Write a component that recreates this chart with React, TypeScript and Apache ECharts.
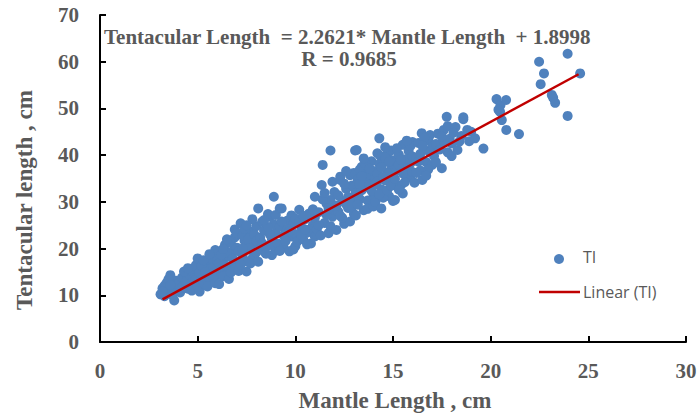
import React, { useEffect, useRef } from "react";
import * as echarts from "echarts";

const xTicks = [0, 5, 10, 15, 20, 25, 30];
const yTicks = [0, 10, 20, 30, 40, 50, 60, 70];
const slope = 2.2621;
const intercept = 1.8998;
const fitRange = [3.2, 24.5];
const equationText = "Tentacular Length  = 2.2621* Mantle Length  + 1.8998";
const rText = "R = 0.9685";
const xTitle = "Mantle Length , cm";
const yTitle = "Tentacular length , cm";
const seriesName = "TI";
const fitName = "Linear (TI)";

const points: number[][] = [
  [3.1,10.2],[3.2,11.5],[3.3,9.8],[3.4,12.6],[3.5,10.9],[3.6,14.3],[3.7,11.8],[3.8,8.9],[3.9,13.1],[3.3,12.0],[3.5,13.4],[3.7,10.1],[3.9,11.2],[4.0,12.5],[3.2,10.8],[3.6,12.2],
  [4.1,10.6],[4.2,13.8],[4.3,12.1],[4.4,14.7],[4.5,11.4],[4.6,13.0],[4.7,15.2],[4.8,12.3],[4.9,16.4],[5.0,14.1],[4.2,11.7],[4.4,12.9],[4.6,14.4],[4.8,13.6],[5.0,17.9],[4.3,15.1],[4.7,11.0],[4.9,13.3],[4.5,15.8],[5.0,12.0],
  [5.1,10.8],[5.2,13.4],[5.3,15.6],[5.4,12.2],[5.5,14.8],[5.6,16.9],[5.7,13.1],[5.8,18.4],[5.9,19.7],[6.0,15.3],[5.1,14.9],[5.3,12.7],[5.5,17.2],[5.7,15.9],[5.9,14.2],[5.2,16.3],[5.4,15.0],[5.6,13.6],[5.8,16.1],[6.0,17.4],[5.5,11.9],[5.8,13.8],[5.3,17.5],[5.9,12.6],[5.6,18.8],
  [6.1,12.4],[6.2,15.8],[6.3,17.6],[6.4,20.8],[6.5,14.6],[6.6,18.3],[6.7,16.2],[6.8,19.5],[6.9,22.4],[7.0,17.1],[6.1,16.9],[6.3,14.1],[6.5,19.2],[6.7,21.3],[6.9,15.7],[6.2,18.7],[6.4,16.4],[6.6,13.5],[6.8,17.8],[7.0,20.2],[6.5,22.0],[6.9,24.1],[6.3,19.9],[6.7,14.9],[7.0,23.3],
  [7.1,15.2],[7.2,25.4],[7.3,18.6],[7.4,21.7],[7.5,15.1],[7.6,19.8],[7.7,23.6],[7.8,17.9],[7.9,20.9],[8.0,24.8],[7.1,19.4],[7.3,22.8],[7.5,17.3],[7.7,20.4],[7.9,18.4],[7.2,16.6],[7.4,24.2],[7.6,22.1],[7.8,26.3],[8.0,19.2],[7.5,25.0],[7.7,16.8],[7.9,23.0],[7.3,20.0],[8.0,21.6],
  [8.1,28.6],[8.1,17.2],[8.2,22.3],[8.3,25.7],[8.4,19.4],[8.5,24.3],[8.6,20.6],[8.7,26.8],[8.8,18.6],[8.9,31.1],[9.0,23.4],[8.2,20.0],[8.4,23.8],[8.6,27.4],[8.8,22.1],[9.0,19.6],[8.3,21.2],[8.5,18.9],[8.7,23.0],[8.9,25.2],[9.0,27.2],[8.6,24.6],[8.4,26.1],[9.2,28.6],[8.8,20.8],
  [9.1,21.1],[9.2,24.7],[9.3,28.6],[9.4,20.2],[9.5,23.3],[9.6,26.0],[9.7,19.4],[9.8,22.6],[9.9,25.3],[10.0,20.5],[9.2,19.5],[9.4,22.8],[9.6,24.2],[9.8,27.1],[10.0,23.1],[9.5,21.6],[9.9,19.8],[10.0,26.4],[9.3,25.8],[9.7,23.7],
  [10.1,21.5],[10.2,28.3],[10.3,24.6],[10.4,22.0],[10.5,26.3],[10.6,23.4],[10.7,27.5],[10.8,21.1],[10.9,25.0],[11.0,31.1],[10.2,25.7],[10.4,27.0],[10.6,20.9],[10.8,24.2],[11.0,26.6],[10.3,22.9],[10.7,23.8],[10.9,28.4],[10.5,24.1],[11.0,22.6],
  [11.1,24.1],[11.2,27.8],[11.35,33.6],[11.4,37.9],[11.5,25.5],[11.6,29.6],[11.7,23.3],[11.8,30.4],[11.8,41.0],[11.9,26.8],[12.0,32.1],[11.2,25.0],[11.4,30.5],[11.6,27.2],[11.8,24.8],[12.0,28.3],[11.3,22.8],[11.5,31.9],[11.7,28.6],[11.9,34.3],
  [12.1,24.0],[12.2,27.9],[12.3,35.4],[12.3,34.7],[12.4,30.2],[12.5,25.3],[12.6,32.8],[12.7,28.7],[12.8,25.8],[12.9,33.5],[13.0,30.1],[12.2,31.4],[12.4,26.6],[12.6,29.5],[12.8,35.7],[13.0,27.4],[12.5,33.9],[12.7,31.1],[12.9,28.9],[13.0,36.2],[12.1,29.2],[12.3,27.0],[12.6,36.6],[12.8,30.8],[13.0,33.0],
  [13.06,41.0],[13.1,27.1],[13.2,34.8],[13.3,30.6],[13.4,37.5],[13.5,28.2],[13.6,33.2],[13.7,36.3],[13.8,29.7],[13.9,38.7],[14.0,31.6],[13.1,31.9],[13.3,36.9],[13.5,34.0],[13.7,30.3],[13.9,35.1],[13.2,29.4],[13.4,32.5],[13.6,38.0],[13.8,33.7],[14.0,36.6],[13.5,39.3],[13.7,28.5],[13.9,32.4],[13.3,33.8],[14.0,29.0],[13.6,35.6],[13.8,37.1],[13.4,35.5],[13.14,41.1],
  [14.1,30.0],[14.2,36.0],[14.3,43.6],[14.35,39.8],[14.4,32.7],[14.5,38.3],[14.6,34.6],[14.7,40.2],[14.8,31.2],[14.9,37.0],[15.0,34.1],[14.1,33.8],[14.3,38.1],[14.5,30.9],[14.7,36.2],[14.9,41.0],[14.2,34.4],[14.4,37.4],[14.6,39.5],[14.8,35.4],[15.0,38.9],[14.3,31.6],[14.5,35.3],[14.7,32.5],[14.9,33.4],[15.0,30.2],[14.6,41.7],[14.2,40.4],[14.8,38.6],[14.4,28.6],
  [15.1,30.4],[15.2,36.8],[15.3,40.1],[15.4,33.5],[15.5,42.2],[15.6,37.6],[15.7,35.0],[15.8,40.9],[15.9,38.3],[16.0,42.8],[15.1,34.9],[15.3,37.9],[15.5,31.8],[15.7,39.2],[15.9,35.6],[15.2,41.5],[15.4,39.0],[15.6,34.2],[15.8,37.1],[16.0,36.4],[15.5,36.1],[15.9,42.0],[15.3,32.6],[16.0,39.7],[15.7,43.1],
  [16.1,34.1],[16.2,39.4],[16.3,42.6],[16.4,36.7],[16.47,44.7],[16.5,34.7],[16.6,41.1],[16.7,38.5],[16.8,43.2],[16.9,44.3],[17.0,37.9],[16.2,36.2],[16.4,40.3],[16.6,43.7],[16.8,36.9],[17.0,41.8],[16.3,38.6],[16.7,35.6],[16.9,40.6],[16.5,42.0],
  [17.1,39.8],[17.2,42.4],[17.3,44.6],[17.5,37.2],[17.6,45.4],[17.75,48.2],[17.8,40.6],[17.9,43.5],[18.0,42.5],[17.2,38.5],[17.4,41.2],[17.6,43.0],[17.8,46.2],[18.0,39.8],[17.5,44.0],
  [18.2,46.0],[18.3,41.1],[18.5,44.1],[18.6,47.7],[18.6,48.1],[18.8,45.4],[18.4,42.9],[19.0,45.0],[19.2,43.6],[19.63,41.4],[18.9,43.0],[18.1,44.8],
  [20.3,52.0],[20.5,50.7],[20.4,49.7],[20.48,49.3],[20.57,47.5],[20.79,51.8],[20.8,45.4],[21.45,44.5],[22.48,60.0],[22.73,57.5],[22.56,55.2],[23.13,52.9],[23.2,52.3],[23.3,51.2],[23.94,48.4],[23.94,61.7],[24.58,57.5]
];

const serif = "'Liberation Serif', 'Times New Roman', serif";
const sans = "'Open Sans', 'Noto Sans', sans-serif";
const gray = "#595959";

export default function App() {
  const ref = useRef<HTMLDivElement>(null);
  useEffect(() => {
    if (!ref.current) return;
    const chart = echarts.init(ref.current, null, { renderer: "svg" });
    const fitLine = fitRange.map((x) => [x, slope * x + intercept]);
    const axisCommon = {
      type: "value" as const,
      axisLine: { show: true, lineStyle: { color: "#000", width: 2 } },
      axisTick: { show: true, inside: true, length: 6, lineStyle: { color: "#000", width: 2 } },
      splitLine: { show: false },
      axisLabel: { fontFamily: serif, fontWeight: "bold" as const, fontSize: 21, color: gray },
    };
    chart.setOption({
      animation: false,
      backgroundColor: "#fff",
      grid: { left: 100, right: 14, top: 15, bottom: 76, containLabel: false },
      xAxis: { ...axisCommon, min: xTicks[0], max: xTicks[xTicks.length - 1], interval: 5, axisLabel: { ...axisCommon.axisLabel, margin: 18 } },
      yAxis: { ...axisCommon, min: yTicks[0], max: yTicks[yTicks.length - 1], interval: 10, axisLabel: { ...axisCommon.axisLabel, margin: 21 } },
      series: [
        {
          name: seriesName,
          type: "scatter",
          data: points,
          symbol: "circle",
          symbolSize: 10,
          itemStyle: { color: "#4f81bd", opacity: 1 },
          z: 2,
        },
        {
          name: fitName,
          type: "line",
          data: fitLine,
          showSymbol: false,
          symbol: "none",
          lineStyle: { color: "#c00000", width: 2.5 },
          z: 3,
        },
      ],
      graphic: [
        { type: "text", x: 104, y: 37, style: { text: equationText, fontFamily: serif, fontWeight: "bold", fontSize: 21, fill: gray, verticalAlign: "middle" } },
        { type: "text", x: 349, y: 59, style: { text: rText, fontFamily: serif, fontWeight: "bold", fontSize: 21, fill: gray, align: "center", verticalAlign: "middle" } },
        { type: "text", x: 395, y: 400, style: { text: xTitle, fontFamily: serif, fontWeight: "bold", fontSize: 23, fill: gray, align: "center", verticalAlign: "middle" } },
        { type: "text", x: 24, y: 200, rotation: Math.PI / 2, style: { text: yTitle, fontFamily: serif, fontWeight: "bold", fontSize: 23, fill: gray, align: "center", verticalAlign: "middle" } },
        { type: "circle", shape: { cx: 559, cy: 259, r: 5 }, style: { fill: "#4f81bd" } },
        { type: "text", x: 583, y: 257, style: { text: seriesName, fontFamily: sans, fontSize: 16, fill: gray, verticalAlign: "middle" } },
        { type: "line", shape: { x1: 539, y1: 292, x2: 580, y2: 292 }, style: { stroke: "#c00000", lineWidth: 2.5 } },
        { type: "text", x: 583, y: 292, style: { text: fitName, fontFamily: sans, fontSize: 16, fill: gray, verticalAlign: "middle" } },
      ],
    });
    return () => chart.dispose();
  }, []);
  return <div ref={ref} style={{ position: "fixed", left: 0, top: 0, width: 700, height: 418 }} />;
}
